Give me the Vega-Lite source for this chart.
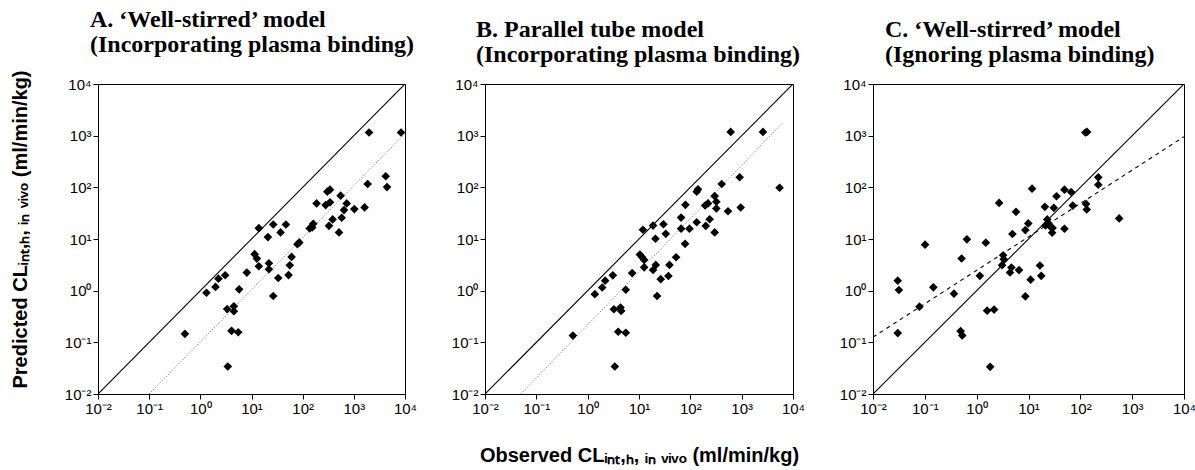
{
  "$schema": "https://vega.github.io/schema/vega-lite/v6.json",
  "padding": {"left": 9, "top": 7, "right": 0, "bottom": 5},
  "background": "white",
  "bounds": "flush",
  "spacing": 80,
  "config": {
    "view": {"stroke": "black", "strokeWidth": 1},
    "title": {"font": "Liberation Serif", "fontWeight": "bold", "fontSize": 24, "anchor": "start", "frame": "group", "color": "black", "lineHeight": 25, "offset": 10},
    "axis": {"grid": false, "domainColor": "black", "tickColor": "black", "tickSize": 5, "labelColor": "black", "labelFont": "Liberation Sans", "labelFontSize": 15, "labelPadding": 2, "titleFont": "Liberation Sans", "titleFontWeight": "bold", "titleFontSize": 20, "titleColor": "black", "labelFlush": false, "labelOverlap": false}
  },
  "datasets": {
    "idLine": [{"obs": 0.01, "pred": 0.01}, {"obs": 10000, "pred": 10000}],
    "fitA": [{"obs": 0.1, "pred": 0.01}, {"obs": 8900, "pred": 980}],
    "fitB": [{"obs": 0.05, "pred": 0.01}, {"obs": 6300, "pred": 1780}],
    "fitC": [{"obs": 0.01, "pred": 0.126}, {"obs": 10000, "pred": 955}],
    "ptsA": [
      {"obs": 0.5, "pred": 0.146}, {"obs": 1.32, "pred": 0.91}, {"obs": 1.98, "pred": 1.18}, {"obs": 2.26, "pred": 1.71}, {"obs": 3.06, "pred": 1.99},
      {"obs": 3.34, "pred": 0.44}, {"obs": 4.52, "pred": 0.5}, {"obs": 4.52, "pred": 0.4}, {"obs": 4.07, "pred": 0.167}, {"obs": 5.5, "pred": 0.157},
      {"obs": 3.44, "pred": 0.034}, {"obs": 5.74, "pred": 1.06}, {"obs": 8.1, "pred": 2.24}, {"obs": 11.5, "pred": 5.08}, {"obs": 12.7, "pred": 4.18},
      {"obs": 13.9, "pred": 2.97}, {"obs": 13.9, "pred": 16.2}, {"obs": 20.9, "pred": 10.9}, {"obs": 21.9, "pred": 3.4}, {"obs": 21.9, "pred": 2.6},
      {"obs": 26.6, "pred": 19.1}, {"obs": 37, "pred": 13.4}, {"obs": 47, "pred": 19.1}, {"obs": 33.3, "pred": 1.76}, {"obs": 26.6, "pred": 0.79},
      {"obs": 53, "pred": 2.0}, {"obs": 56, "pred": 3.1}, {"obs": 60.7, "pred": 4.5}, {"obs": 79, "pred": 7.9}, {"obs": 85.7, "pred": 8.6},
      {"obs": 137, "pred": 16}, {"obs": 154, "pred": 16.7}, {"obs": 161, "pred": 19.7}, {"obs": 187, "pred": 48.9}, {"obs": 303, "pred": 82.4},
      {"obs": 342, "pred": 90}, {"obs": 281, "pred": 45.4}, {"obs": 342, "pred": 51.2}, {"obs": 327, "pred": 18}, {"obs": 385, "pred": 23.9},
      {"obs": 513, "pred": 13.4}, {"obs": 552, "pred": 68.9}, {"obs": 578, "pred": 25.8}, {"obs": 642, "pred": 36.3}, {"obs": 725, "pred": 48.9},
      {"obs": 1023, "pred": 37.9}, {"obs": 1622, "pred": 40.9}, {"obs": 1862, "pred": 116}, {"obs": 4198, "pred": 164}, {"obs": 4456, "pred": 101},
      {"obs": 1982, "pred": 1150}, {"obs": 8375, "pred": 1150}
    ],
    "ptsB": [
      {"obs": 0.515, "pred": 0.135}, {"obs": 1.38, "pred": 0.855}, {"obs": 1.92, "pred": 1.15}, {"obs": 2.19, "pred": 1.56}, {"obs": 3.09, "pred": 1.98},
      {"obs": 3.24, "pred": 0.436}, {"obs": 4.36, "pred": 0.47}, {"obs": 4.49, "pred": 0.405}, {"obs": 3.93, "pred": 0.16}, {"obs": 5.53, "pred": 0.153},
      {"obs": 3.38, "pred": 0.034}, {"obs": 5.53, "pred": 1.04}, {"obs": 7.35, "pred": 2.19}, {"obs": 10.4, "pred": 5.0}, {"obs": 11.5, "pred": 4.44},
      {"obs": 12.6, "pred": 3.94}, {"obs": 12.6, "pred": 2.83}, {"obs": 11.9, "pred": 15.1}, {"obs": 18.8, "pred": 2.51}, {"obs": 21.2, "pred": 3.15},
      {"obs": 18.8, "pred": 18.2}, {"obs": 20.9, "pred": 10.1}, {"obs": 29.9, "pred": 19.3}, {"obs": 33.2, "pred": 12.6}, {"obs": 22.5, "pred": 0.79},
      {"obs": 26.5, "pred": 1.67}, {"obs": 37.4, "pred": 1.92}, {"obs": 39.2, "pred": 3.15}, {"obs": 52.8, "pred": 4.44}, {"obs": 79, "pred": 8.07},
      {"obs": 66, "pred": 15.85}, {"obs": 66, "pred": 26}, {"obs": 80.2, "pred": 45.9}, {"obs": 96, "pred": 15.85}, {"obs": 133, "pred": 21.1},
      {"obs": 133, "pred": 82.3}, {"obs": 141, "pred": 91.4}, {"obs": 194, "pred": 44.5}, {"obs": 221, "pred": 48.8}, {"obs": 200, "pred": 17.9},
      {"obs": 238, "pred": 24.1}, {"obs": 298, "pred": 67.8}, {"obs": 321, "pred": 52.5}, {"obs": 321, "pred": 38.9}, {"obs": 298, "pred": 13.4},
      {"obs": 408, "pred": 116}, {"obs": 542, "pred": 34.5}, {"obs": 914, "pred": 157}, {"obs": 957, "pred": 40.7}, {"obs": 5480, "pred": 98},
      {"obs": 611, "pred": 1183}, {"obs": 2600, "pred": 1183}
    ],
    "ptsC": [
      {"obs": 0.03, "pred": 1.56}, {"obs": 0.0316, "pred": 1.03}, {"obs": 0.03, "pred": 0.151}, {"obs": 0.101, "pred": 7.78}, {"obs": 0.0787, "pred": 0.49},
      {"obs": 0.146, "pred": 1.16}, {"obs": 0.365, "pred": 0.875}, {"obs": 0.512, "pred": 4.19}, {"obs": 0.648, "pred": 9.86}, {"obs": 0.49, "pred": 0.165},
      {"obs": 0.527, "pred": 0.136}, {"obs": 1.15, "pred": 1.94}, {"obs": 1.5, "pred": 8.49}, {"obs": 1.59, "pred": 0.41}, {"obs": 2.17, "pred": 0.43},
      {"obs": 1.82, "pred": 0.0336}, {"obs": 2.71, "pred": 50}, {"obs": 3.24, "pred": 4.85}, {"obs": 3.33, "pred": 4.06}, {"obs": 3.09, "pred": 3.12},
      {"obs": 4.4, "pred": 2.25}, {"obs": 4.68, "pred": 2.81}, {"obs": 4.89, "pred": 12.5}, {"obs": 5.74, "pred": 33.6}, {"obs": 6.56, "pred": 2.5},
      {"obs": 8.69, "pred": 0.778}, {"obs": 8.69, "pred": 14.9}, {"obs": 9.9, "pred": 20}, {"obs": 11, "pred": 1.63}, {"obs": 16.6, "pred": 3.07},
      {"obs": 17.6, "pred": 1.94}, {"obs": 11.7, "pred": 94.3}, {"obs": 20.7, "pred": 41.9}, {"obs": 21.3, "pred": 18.3}, {"obs": 23, "pred": 23.9},
      {"obs": 24.4, "pred": 20}, {"obs": 26.6, "pred": 17.3}, {"obs": 28.6, "pred": 13.2}, {"obs": 29.1, "pred": 16.3}, {"obs": 30.8, "pred": 40.1},
      {"obs": 34.7, "pred": 67.2}, {"obs": 49.4, "pred": 15.8}, {"obs": 49.4, "pred": 90.2}, {"obs": 66.4, "pred": 81.3}, {"obs": 71.5, "pred": 44.4},
      {"obs": 129, "pred": 47.8}, {"obs": 133, "pred": 37.2}, {"obs": 222, "pred": 156}, {"obs": 222, "pred": 112}, {"obs": 562, "pred": 25},
      {"obs": 125, "pred": 1150}, {"obs": 135, "pred": 1180}
    ]
  },
  "hconcat": [
    {
      "width": 307, "height": 310,
      "title": {"text": ["A. ‘Well-stirred’ model", "(Incorporating plasma binding)"], "dx": -8, "font": "Liberation Serif"},
      "encoding": {
        "x": {"field": "obs", "type": "quantitative", "scale": {"type": "log", "domain": [0.01, 10000], "nice": false}, "axis": {"title": null, "values": [0.01, 0.1, 1, 10, 100, 1000, 10000], "labelExpr": "datum.value < 0.05 ? '10⁻²' : datum.value < 0.5 ? '10⁻¹' : datum.value < 5 ? '10⁰' : datum.value < 50 ? '10¹' : datum.value < 500 ? '10²' : datum.value < 5000 ? '10³' : '10⁴'"}},
        "y": {"field": "pred", "type": "quantitative", "scale": {"type": "log", "domain": [0.01, 10000], "nice": false}, "axis": {"title": "Predicted CLᵢₙₜ,ₕ, ᵢₙ ᵥᵢᵥₒ  (ml/min/kg)", "titlePadding": 34, "titleY": 145, "values": [0.01, 0.1, 1, 10, 100, 1000, 10000], "labelExpr": "datum.value < 0.05 ? '10⁻²' : datum.value < 0.5 ? '10⁻¹' : datum.value < 5 ? '10⁰' : datum.value < 50 ? '10¹' : datum.value < 500 ? '10²' : datum.value < 5000 ? '10³' : '10⁴'"}}
      },
      "layer": [
        {"data": {"name": "idLine"}, "mark": {"type": "line", "color": "black", "strokeWidth": 1.1, "clip": true}},
        {"data": {"name": "fitA"}, "mark": {"type": "line", "color": "#333333", "strokeWidth": 0.8, "strokeDash": [1, 2], "clip": true}},
        {"data": {"name": "ptsA"}, "mark": {"type": "point", "shape": "diamond", "filled": true, "color": "black", "opacity": 1, "size": 75}}
      ]
    },
    {
      "width": 308, "height": 310,
      "title": {"text": ["B. Parallel tube model", "(Incorporating plasma binding)"], "dx": -9, "font": "Liberation Serif"},
      "encoding": {
        "x": {"field": "obs", "type": "quantitative", "scale": {"type": "log", "domain": [0.01, 10000], "nice": false}, "axis": {"title": "Observed CLᵢₙₜ,ₕ, ᵢₙ ᵥᵢᵥₒ  (ml/min/kg)", "titlePadding": 29, "values": [0.01, 0.1, 1, 10, 100, 1000, 10000], "labelExpr": "datum.value < 0.05 ? '10⁻²' : datum.value < 0.5 ? '10⁻¹' : datum.value < 5 ? '10⁰' : datum.value < 50 ? '10¹' : datum.value < 500 ? '10²' : datum.value < 5000 ? '10³' : '10⁴'"}},
        "y": {"field": "pred", "type": "quantitative", "scale": {"type": "log", "domain": [0.01, 10000], "nice": false}, "axis": {"title": null, "values": [0.01, 0.1, 1, 10, 100, 1000, 10000], "labelExpr": "datum.value < 0.05 ? '10⁻²' : datum.value < 0.5 ? '10⁻¹' : datum.value < 5 ? '10⁰' : datum.value < 50 ? '10¹' : datum.value < 500 ? '10²' : datum.value < 5000 ? '10³' : '10⁴'"}}
      },
      "layer": [
        {"data": {"name": "idLine"}, "mark": {"type": "line", "color": "black", "strokeWidth": 1.1, "clip": true}},
        {"data": {"name": "fitB"}, "mark": {"type": "line", "color": "#333333", "strokeWidth": 0.8, "strokeDash": [1, 2], "clip": true}},
        {"data": {"name": "ptsB"}, "mark": {"type": "point", "shape": "diamond", "filled": true, "color": "black", "opacity": 1, "size": 75}}
      ]
    },
    {
      "width": 311, "height": 310,
      "title": {"text": ["C. ‘Well-stirred’ model", "(Ignoring plasma binding)"], "dx": 12, "font": "Liberation Serif"},
      "encoding": {
        "x": {"field": "obs", "type": "quantitative", "scale": {"type": "log", "domain": [0.01, 10000], "nice": false}, "axis": {"title": null, "values": [0.01, 0.1, 1, 10, 100, 1000, 10000], "labelExpr": "datum.value < 0.05 ? '10⁻²' : datum.value < 0.5 ? '10⁻¹' : datum.value < 5 ? '10⁰' : datum.value < 50 ? '10¹' : datum.value < 500 ? '10²' : datum.value < 5000 ? '10³' : '10⁴'"}},
        "y": {"field": "pred", "type": "quantitative", "scale": {"type": "log", "domain": [0.01, 10000], "nice": false}, "axis": {"title": null, "values": [0.01, 0.1, 1, 10, 100, 1000, 10000], "labelExpr": "datum.value < 0.05 ? '10⁻²' : datum.value < 0.5 ? '10⁻¹' : datum.value < 5 ? '10⁰' : datum.value < 50 ? '10¹' : datum.value < 500 ? '10²' : datum.value < 5000 ? '10³' : '10⁴'"}}
      },
      "layer": [
        {"data": {"name": "idLine"}, "mark": {"type": "line", "color": "black", "strokeWidth": 1.1, "clip": true}},
        {"data": {"name": "fitC"}, "mark": {"type": "line", "color": "black", "strokeWidth": 1.1, "strokeDash": [4, 4], "clip": true}},
        {"data": {"name": "ptsC"}, "mark": {"type": "point", "shape": "diamond", "filled": true, "color": "black", "opacity": 1, "size": 75}}
      ]
    }
  ]
}
